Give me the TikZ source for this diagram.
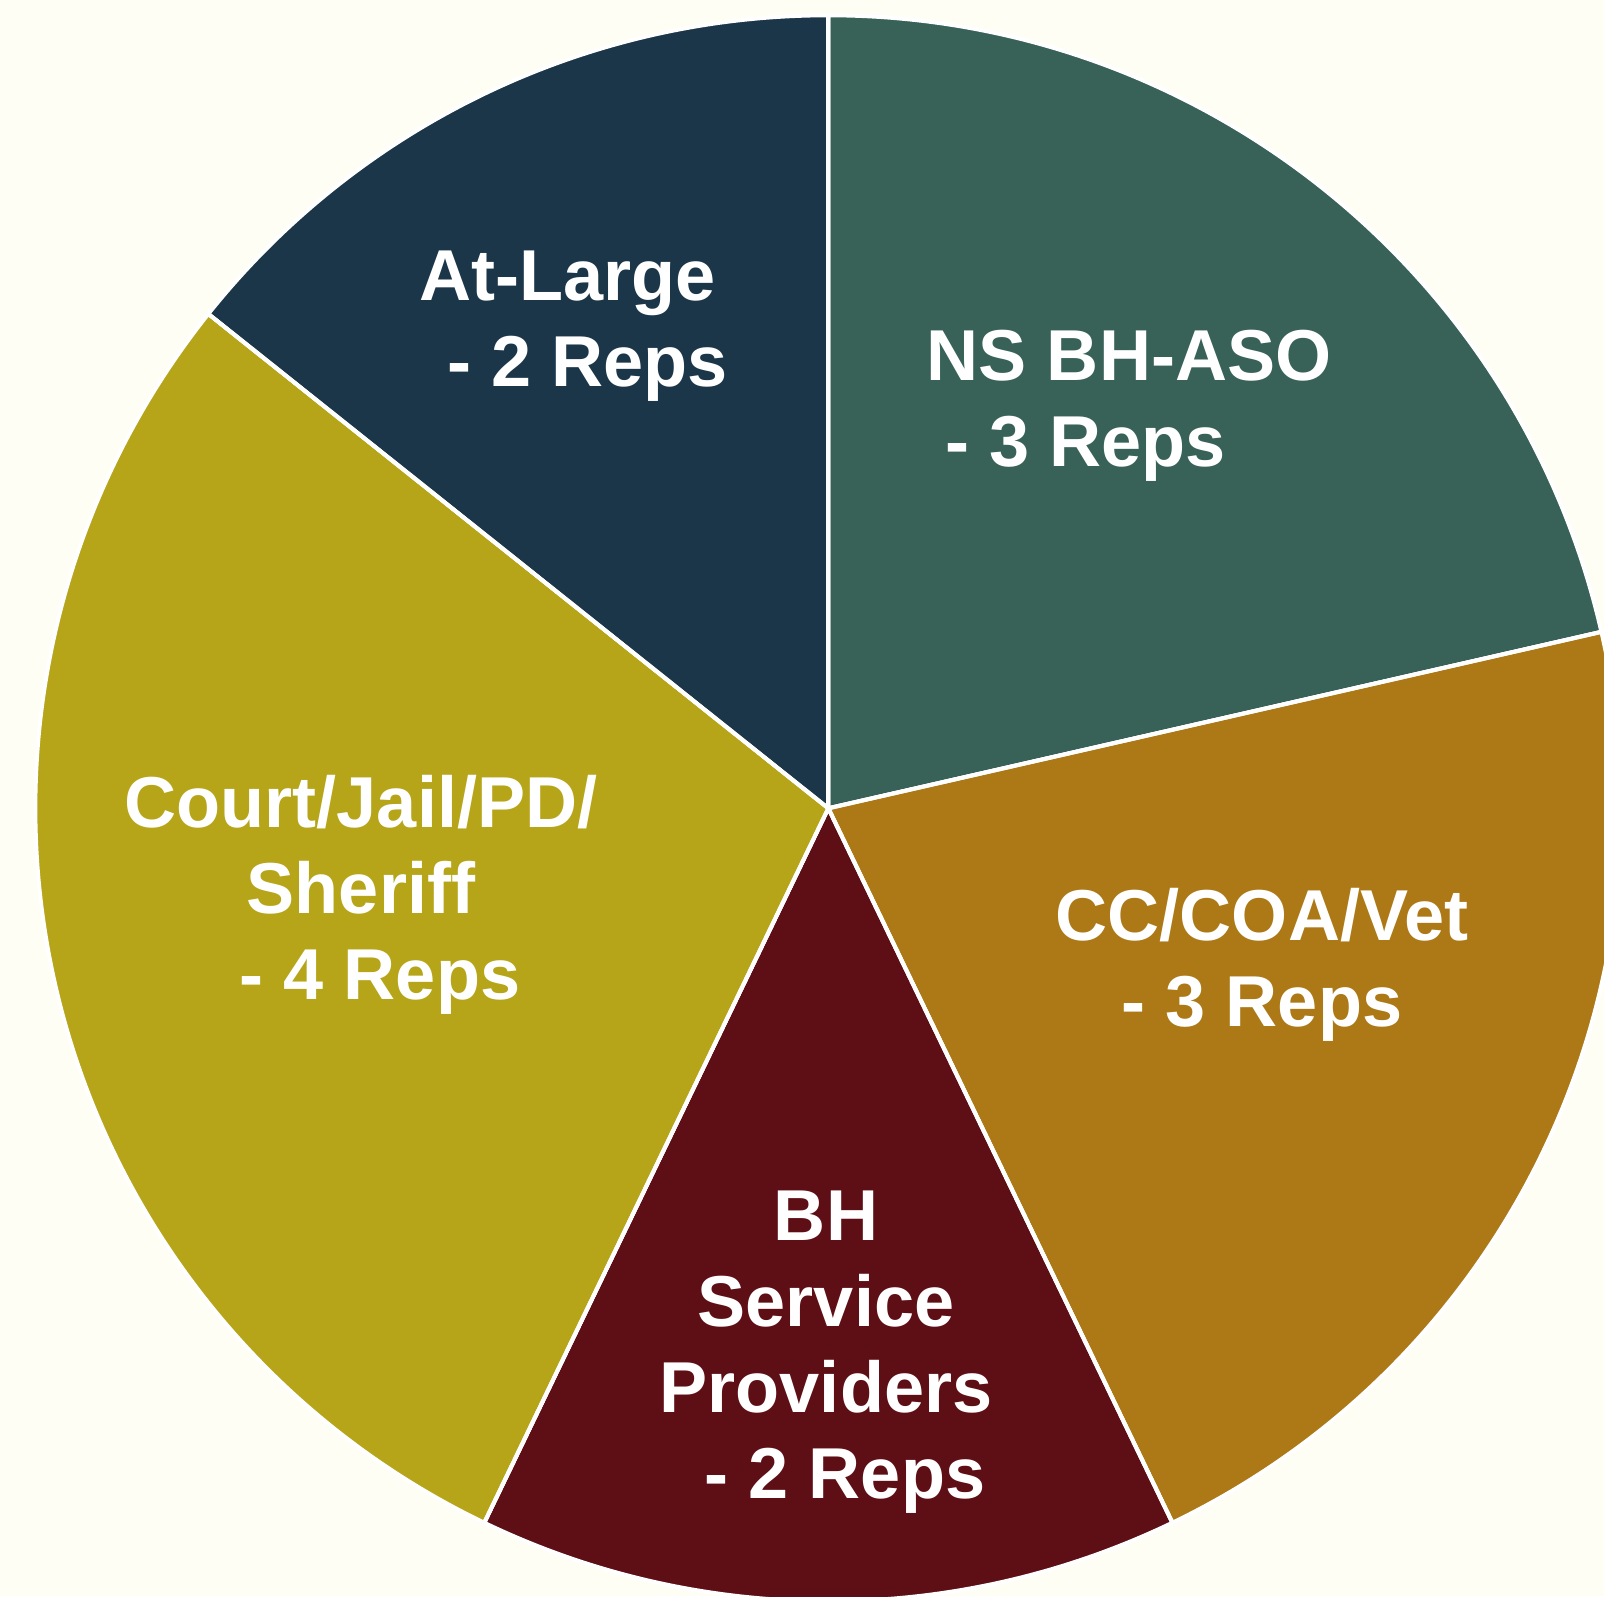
\documentclass[tikz,border=0pt]{standalone}
\usepackage{fontspec}
\setmainfont{Liberation Sans}
\definecolor{bgcream}{RGB}{254,254,244}
\definecolor{nsgreen}{RGB}{56,97,88}
\definecolor{ccbrown}{RGB}{172,121,22}
\definecolor{bhmaroon}{RGB}{94,14,21}
\definecolor{courtolive}{RGB}{183,165,25}
\definecolor{largenavy}{RGB}{28,54,73}
\tikzset{
  slice/.style={draw=white, line width=0.04cm, line join=miter},
  lbl/.style={text=white, font=\fontsize{20.5pt}{24.47pt}\selectfont\bfseries, align=center, inner sep=0pt, anchor=base}
}
\begin{document}
\begin{tikzpicture}[x=0.01cm, y=0.01cm]
\fill[bgcream] (0,0) rectangle (1604,1596);
\useasboundingbox (0,0) rectangle (1604,1596);
\clip (0,0) rectangle (1604,1596);
\coordinate (C) at (828.3,787.7);
\fill[slice, fill=nsgreen] (C) -- ++(90:793) arc[start angle=90, end angle=12.857, radius=793] -- cycle;
\fill[slice, fill=ccbrown] (C) -- ++(12.857:793) arc[start angle=12.857, end angle=-64.286, radius=793] -- cycle;
\fill[slice, fill=bhmaroon] (C) -- ++(-64.286:793) arc[start angle=-64.286, end angle=-115.714, radius=793] -- cycle;
\fill[slice, fill=courtolive] (C) -- ++(-115.714:793) arc[start angle=-115.714, end angle=-218.571, radius=793] -- cycle;
\fill[slice, fill=largenavy] (C) -- ++(141.429:793) arc[start angle=141.429, end angle=90, radius=793] -- cycle;
\draw[slice] (C) -- ++(90:793);
\draw[slice] (C) -- ++(12.857:793);
\draw[slice] (C) -- ++(-64.286:793);
\draw[slice] (C) -- ++(-115.714:793);
\draw[slice] (C) -- ++(141.429:793);
\node[lbl] (atlarge) at (567.5,1209.3) {At-Large\\\kern0.4cm- 2 Reps};
\node[lbl] (nsbh) at (1085.6,1129.3) {\kern0.87cm NS BH-ASO\\- 3 Reps};
\node[lbl] (court) at (361,596.7) {Court/Jail/PD/\\Sheriff\\\kern0.38cm- 4 Reps};
\node[lbl] (ccvet) at (1262,569.3) {CC/COA/Vet\\- 3 Reps};
\node[lbl] (bhsp) at (826,97.7) {BH\\Service\\Providers\\\kern0.38cm- 2 Reps};
\end{tikzpicture}
\end{document}
